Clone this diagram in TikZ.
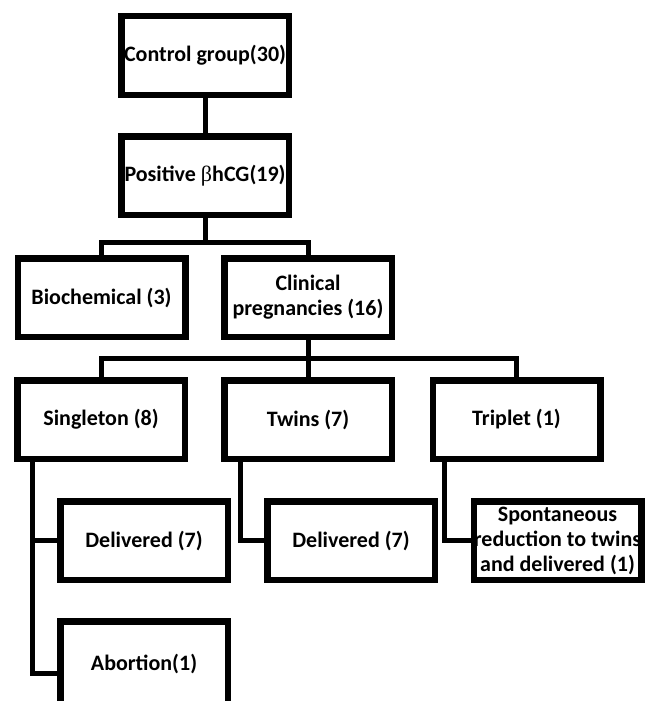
\documentclass[tikz,border=0pt]{standalone}
\usepackage{fontspec}
\setmainfont{Carlito}
\newfontfamily\betafont{Liberation Serif}
\usepackage{tikz}
\usetikzlibrary{calc}

\begin{document}
\begin{tikzpicture}[x=1pt,y=1pt,BX/.style={draw=black,line width=6.5pt,rectangle,minimum width=167.5pt,minimum height=78.5pt,inner sep=0pt,align=center,font=\fontsize{22}{25}\selectfont\bfseries},LN/.style={line width=5pt}]
        \useasboundingbox (0,0) rectangle (650,-701);
        % Whole group at the top
        \node[BX] (ctrl) at (205,-55.5) {Control group(30)};
        % Positive test below it
        \node[BX,anchor=north,inner xsep=-4pt] (pos) at ($(ctrl.south)+(0,-35)$) {Positive {\betafont\mdseries β}hCG(19)};
        % Split into biochemical and clinical
        \node[BX,anchor=north] (bio) at ($(pos.south)+(-103.5,-37)$) {Biochemical (3)};
        \node[BX,anchor=north] (clin) at ($(pos.south)+(103,-37)$) {Clinical\\pregnancies (16)};
        % Clinical pregnancies by number
        \node[BX,anchor=north] (single) at ($(clin.south)+(-207,-37)$) {Singleton (8)};
        \node[BX,anchor=north] (twin) at ($(clin.south)+(0,-37)$) {Twins (7)};
        \node[BX,anchor=north] (trip) at ($(clin.south)+(208.5,-37)$) {Triplet (1)};
        % OUTCOMES
        \node[BX,anchor=north west] (del1) at ($(single.south west)+(43,-36)$) {Delivered (7)};
        \node[BX,anchor=north west] (del2) at ($(twin.south west)+(43,-36)$) {Delivered (7)};
        \node[BX,anchor=north west,inner xsep=-5pt] (spont) at ($(trip.south west)+(41,-36)$) {Spontaneous\\reduction to twins\\and delivered (1)};
        \node[BX,anchor=north west,minimum height=92pt,text depth=10pt] (abort) at ($(del1.south west)+(0,-35)$) {Abortion(1)};
        % LINES
        \draw[LN] (ctrl.south) -- (pos.north);
        \draw[LN] (pos.south) -- ++(0,-24) -| (bio.north);
        \draw[LN] (pos.south) -- ++(0,-24) -| (clin.north);
        \draw[LN] (clin.south) -- ++(0,-18) -| (single.north);
        \draw[LN] (clin.south) -- ++(0,-18) -| (twin.north);
        \draw[LN] (clin.south) -- ++(0,-18) -| (trip.north);
        % side lines to the outcomes
        \draw[LN] ([xshift=18pt]single.south west) |- (del1.west);
        \draw[LN] ([xshift=18pt]single.south west) |- ([yshift=-6pt]abort.west);
        \draw[LN] ([xshift=19pt]twin.south west) |- (del2.west);
        \draw[LN] ([xshift=15pt]trip.south west) |- (spont.west);
    \end{tikzpicture}
\end{document}
